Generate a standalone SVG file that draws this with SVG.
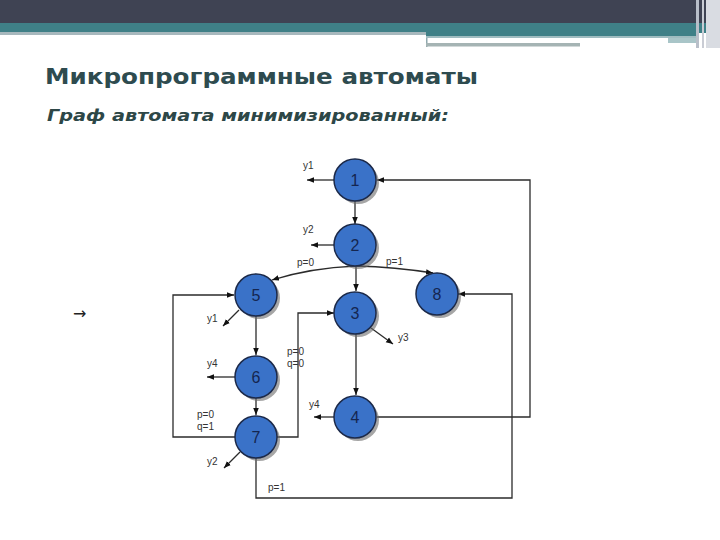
<svg xmlns="http://www.w3.org/2000/svg" width="720" height="540" viewBox="0 0 720 540">
<defs>
<style>
.edge{fill:none;stroke:#2b2b2b;stroke-width:1.3}
.node circle.c{fill:#3a72c8;stroke:#1c2a4a;stroke-width:1.5}
.node circle.s{fill:#6b6b6b;opacity:0.6}
.node text{font-family:"Liberation Sans",Arial,sans-serif;font-size:16px;fill:#152650;text-anchor:middle}
.lbl{font-family:"Liberation Sans",Arial,sans-serif;font-size:10px;fill:#333}
</style>
<marker id="ah" viewBox="0 0 10 10" refX="10" refY="5" markerWidth="7" markerHeight="7" orient="auto" markerUnits="userSpaceOnUse">
<path d="M0,1 L10,5 L0,9 z" fill="#111"/>
</marker>
</defs>
<rect width="720" height="540" fill="#ffffff"/>
<!-- header -->
<rect x="0" y="0" width="720" height="24" fill="#3f4353"/>
<rect x="0" y="23" width="720" height="10" fill="#3f8087"/>
<rect x="0" y="32" width="426" height="3" fill="#a7b8bd"/>
<rect x="426" y="32" width="270" height="4" fill="#3f8087"/>
<rect x="426" y="36" width="270" height="2" fill="#9fbcc0"/>
<rect x="426" y="39" width="242" height="2" fill="#ffffff"/>
<rect x="426" y="38" width="1.5" height="9" fill="#8fa8ad"/>
<rect x="426" y="43" width="154" height="3.5" fill="#a5b4b4"/>
<rect x="668" y="38" width="28" height="5" fill="#a9c5c8"/>
<rect x="696" y="0" width="3" height="48" fill="#b9bfc9"/>
<rect x="702" y="0" width="2" height="48" fill="#c9ccd4"/>
<rect x="706" y="0" width="14" height="48" fill="#d9dce2"/>
<text x="45" y="84" font-family="'DejaVu Sans',Verdana,sans-serif" font-weight="bold" font-size="22" fill="#2e4b4f" textLength="433" lengthAdjust="spacingAndGlyphs">Микропрограммные автоматы</text>
<text x="47" y="121" font-family="'DejaVu Sans',Verdana,sans-serif" font-weight="bold" font-style="italic" font-size="16" fill="#2d4747" textLength="402" lengthAdjust="spacingAndGlyphs">Граф автомата минимизированный:</text>
<text x="73" y="319" font-family="'DejaVu Sans',sans-serif" font-size="16" fill="#222">→</text>
<!-- connectors -->
<g id="connectors">
<path class="edge" d="M334,180 L307,180" marker-end="url(#ah)"/>
<path class="edge" d="M355,201 L355,224" marker-end="url(#ah)"/>
<path class="edge" d="M334,245 L311,245" marker-end="url(#ah)"/>
<path class="edge" d="M356,266 Q310,268 272,280" marker-end="url(#ah)"/>
<path class="edge" d="M356,266 Q395,267 433,273" marker-end="url(#ah)"/>
<path class="edge" d="M356,266 L356,291" marker-end="url(#ah)"/>
<path class="edge" d="M239,310 L223,326" marker-end="url(#ah)"/>
<path class="edge" d="M256,316 L256,355" marker-end="url(#ah)"/>
<path class="edge" d="M235,377 L207,377" marker-end="url(#ah)"/>
<path class="edge" d="M256,398 L256,415" marker-end="url(#ah)"/>
<path class="edge" d="M240,452 L224,468" marker-end="url(#ah)"/>
<path class="edge" d="M235,437 L173,437 L173,295 L234,295" marker-end="url(#ah)"/>
<path class="edge" d="M277,437 L298,437 L298,313 L334,313" marker-end="url(#ah)"/>
<path class="edge" d="M256,458 L256,498 L512,498 L512,294 L458,294" marker-end="url(#ah)"/>
<path class="edge" d="M371,328 L393,344" marker-end="url(#ah)"/>
<path class="edge" d="M356,334 L356,395" marker-end="url(#ah)"/>
<path class="edge" d="M334,417 L314,417" marker-end="url(#ah)"/>
<path class="edge" d="M377,417 L530,417 L530,180 L377,180" marker-end="url(#ah)"/>
</g>
<!-- labels -->
<g id="labels">
<text class="lbl" x="303" y="169">y1</text>
<text class="lbl" x="303" y="233">y2</text>
<text class="lbl" x="297" y="266">p=0</text>
<text class="lbl" x="386" y="265">p=1</text>
<text class="lbl" x="207" y="322">y1</text>
<text class="lbl" x="287" y="355">p=0</text>
<text class="lbl" x="287" y="367">q=0</text>
<text class="lbl" x="398" y="341">y3</text>
<text class="lbl" x="207" y="367">y4</text>
<text class="lbl" x="309" y="408">y4</text>
<text class="lbl" x="197" y="418">p=0</text>
<text class="lbl" x="197" y="430">q=1</text>
<text class="lbl" x="207" y="465">y2</text>
<text class="lbl" x="268" y="491">p=1</text>
</g>
<!-- nodes -->
<g id="n1" class="node"><circle class="s" cx="358" cy="183" r="21"/><circle class="c" cx="355" cy="180" r="21"/><text x="355" y="186">1</text></g>
<g id="n2" class="node"><circle class="s" cx="358" cy="248" r="21"/><circle class="c" cx="355" cy="245" r="21"/><text x="355" y="251">2</text></g>
<g id="n3" class="node"><circle class="s" cx="358" cy="316" r="21"/><circle class="c" cx="355" cy="313" r="21"/><text x="355" y="319">3</text></g>
<g id="n4" class="node"><circle class="s" cx="358" cy="420" r="21"/><circle class="c" cx="355" cy="417" r="21"/><text x="355" y="423">4</text></g>
<g id="n5" class="node"><circle class="s" cx="259" cy="298" r="21"/><circle class="c" cx="256" cy="295" r="21"/><text x="256" y="301">5</text></g>
<g id="n6" class="node"><circle class="s" cx="259" cy="380" r="21"/><circle class="c" cx="256" cy="377" r="21"/><text x="256" y="383">6</text></g>
<g id="n7" class="node"><circle class="s" cx="259" cy="440" r="21"/><circle class="c" cx="256" cy="437" r="21"/><text x="256" y="443">7</text></g>
<g id="n8" class="node"><circle class="s" cx="440" cy="297" r="21"/><circle class="c" cx="437" cy="294" r="21"/><text x="437" y="300">8</text></g>
</svg>
